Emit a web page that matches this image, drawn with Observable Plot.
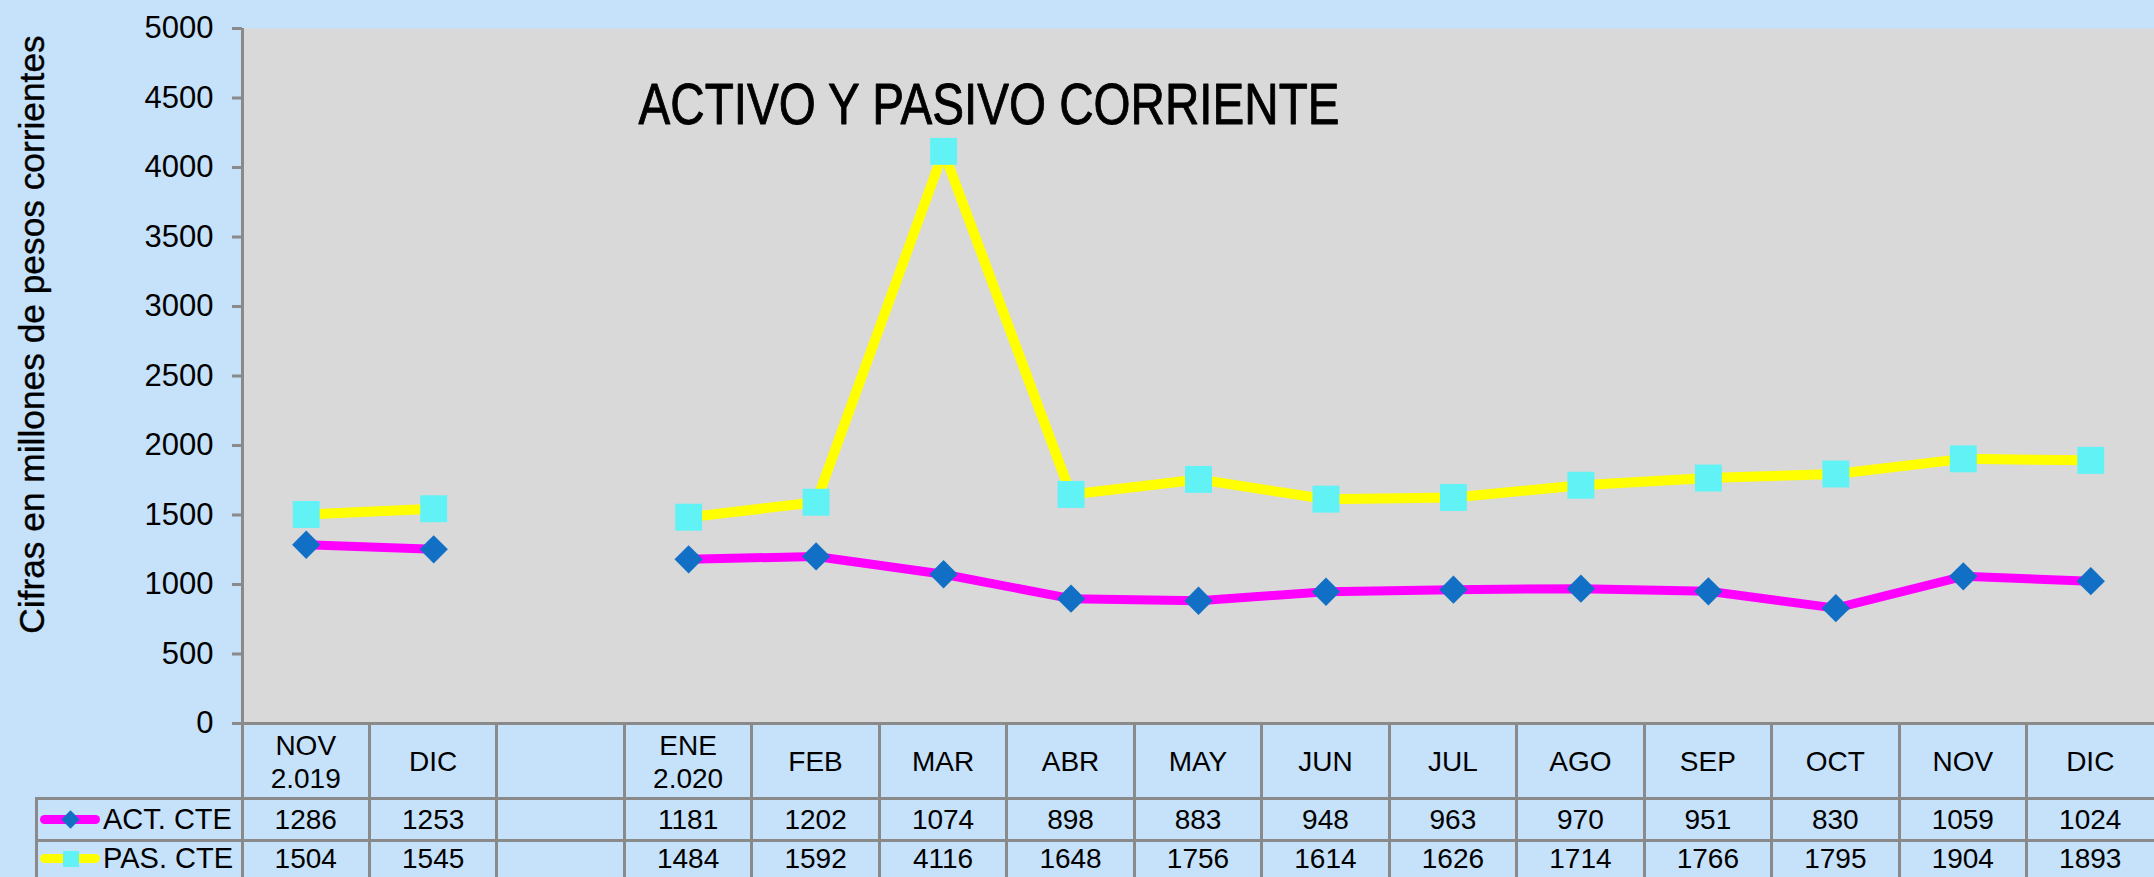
<!DOCTYPE html>
<html><head><meta charset="utf-8">
<script src="https://cdn.jsdelivr.net/npm/d3@7"></script>
<script src="https://cdn.jsdelivr.net/npm/@observablehq/plot@0.6"></script>
<style>
html,body{margin:0;padding:0;background:#C6E1FA;}
#wrap{position:relative;width:2154px;height:877px;overflow:hidden;background:#C6E1FA;font-family:"Liberation Sans",Arial,sans-serif;}
#wrap svg{position:absolute;left:0;top:0;}
.ln{position:absolute;background:#8a8a8a;}
.cell{position:absolute;display:flex;align-items:center;justify-content:center;text-align:center;font-size:28px;color:#000;white-space:pre-line;line-height:33px;}
.leg{position:absolute;display:flex;align-items:center;font-size:29px;color:#000;white-space:nowrap;}
.sym{position:absolute;}
</style></head><body><div id="wrap"></div>
<script>
(function () {
// ---- data ----
const months = ["NOV\n2.019","DIC","","ENE\n2.020","FEB","MAR","ABR","MAY","JUN","JUL","AGO","SEP","OCT","NOV","DIC"];
const actCte = [1286,1253,null,1181,1202,1074,898,883,948,963,970,951,830,1059,1024];
const pasCte = [1504,1545,null,1484,1592,4116,1648,1756,1614,1626,1714,1766,1795,1904,1893];
const yTicks = [0,500,1000,1500,2000,2500,3000,3500,4000,4500,5000];
const seriesNames = ["ACT. CTE","PAS. CTE"];
const chartTitle = "ACTIVO Y PASIVO CORRIENTE";
const yLabel = "Cifras en millones de pesos corrientes";

// ---- layout ----
const W = 2154, mLeft = 242, mTop = 28, y0px = 723, svgH = 725;
const cw = (W - mLeft) / months.length;
const gridColor = "#8a8a8a";
const actColor = "#FF00FF", actMarker = "#1170C6";
const pasColor = "#FFFF00", pasMarker = "#61F2F6";

const rows = months.map((m, i) => ({i, act: actCte[i] == null ? NaN : actCte[i], pas: pasCte[i] == null ? NaN : pasCte[i]}));

const plot = Plot.plot({
  width: W, height: svgH,
  marginLeft: mLeft, marginRight: 0, marginTop: mTop, marginBottom: svgH - y0px,
  style: {background: "transparent", fontFamily: "Liberation Sans, Arial, sans-serif", color: "black", overflow: "visible"},
  x: {domain: [-0.5, months.length - 0.5], axis: null},
  y: {domain: [0, 5000], axis: null},
  marks: [
    Plot.frame({fill: "#D9D9D9", stroke: "none"}),
    Plot.axisY(yTicks, {tickSize: 10, tickPadding: 19, fontSize: 31, tickFormat: d => String(d), stroke: gridColor, strokeWidth: 3, label: null}),
    Plot.ruleX([-0.5], {stroke: gridColor, strokeWidth: 3}),
    Plot.ruleY([0], {stroke: gridColor, strokeWidth: 3}),
    Plot.text([chartTitle], {text: d => d, frameAnchor: "top-left", dx: 396, dy: 95, textAnchor: "start", lineAnchor: "bottom", fontSize: 57, fill: "black", stroke: "black", strokeWidth: 0.9, fontFamily: "Liberation Sans Narrow, Arial Narrow, Liberation Sans, sans-serif"}),
    Plot.text([yLabel], {text: d => d, frameAnchor: "left", rotate: -90, dx: -210, dy: -41.5, textAnchor: "middle", lineAnchor: "middle", fontSize: 35.3, fill: "black", stroke: "black", strokeWidth: 0.4, fontFamily: "Liberation Sans, Arial, sans-serif"}),
    Plot.line(rows, {x: "i", y: "pas", stroke: pasColor, strokeWidth: 10}),
    Plot.line(rows, {x: "i", y: "act", stroke: actColor, strokeWidth: 9}),
    Plot.dot(rows, {x: "i", y: "pas", symbol: "square", r: 15.2, fill: pasMarker}),
    Plot.dot(rows, {x: "i", y: "act", symbol: "square", rotate: 45, r: 11.3, fill: actMarker})
  ]
});
for (const t of plot.querySelectorAll("text")) {
  if (t.textContent === chartTitle) { t.setAttribute("textLength", 701); t.setAttribute("lengthAdjust", "spacingAndGlyphs"); }
}
const wrap = document.getElementById("wrap");
wrap.appendChild(plot);

// ---- data table ----
function div(cls, css, text) {
  const d = document.createElement("div");
  d.className = cls;
  Object.assign(d.style, css);
  if (text != null) d.textContent = text;
  wrap.appendChild(d);
  return d;
}
const rowTops = [y0px, 798, 840, 877];
const legLeft = 36;
for (const y of [rowTops[1], rowTops[2]]) div("ln", {left: legLeft - 1.5 + "px", top: y - 1.5 + "px", width: W - legLeft + 3 + "px", height: "3px"});
for (let k = 0; k < months.length; k++) {
  const x = mLeft + k * cw;
  div("ln", {left: x - 1.5 + "px", top: y0px + "px", width: "3px", height: 877 - y0px + "px"});
}
div("ln", {left: legLeft - 1.5 + "px", top: rowTops[1] - 1.5 + "px", width: "3px", height: 877 - rowTops[1] + 3 + "px"});

const rowsVals = [actCte, pasCte];
months.forEach((m, i) => {
  const x = mLeft + i * cw;
  div("cell", {left: x + "px", top: rowTops[0] + 2 + "px", width: cw + "px", height: rowTops[1] - rowTops[0] - 2 + "px"}, m);
  rowsVals.forEach((vals, r) => {
    div("cell", {left: x + "px", top: rowTops[r + 1] + "px", width: cw + "px", height: rowTops[r + 2] - rowTops[r + 1] + "px"}, vals[i] == null ? "" : String(vals[i]));
  });
});
const legColors = [[actColor, actMarker, true], [pasColor, pasMarker, false]];
seriesNames.forEach((name, r) => {
  const cy = (rowTops[r + 1] + rowTops[r + 2]) / 2;
  const [lc, mc, diamond] = legColors[r];
  div("sym", {left: "40px", top: cy - 4.5 + "px", width: "60px", height: "9px", borderRadius: "5px", background: lc});
  if (diamond) div("sym", {left: 70 - 6.5 + "px", top: cy - 6.5 + "px", width: "13px", height: "13px", background: mc, transform: "rotate(45deg)"});
  else div("sym", {left: 71 - 8 + "px", top: cy - 8 + "px", width: "16px", height: "16px", background: mc});
  div("leg", {left: "103px", top: rowTops[r + 1] + "px", height: rowTops[r + 2] - rowTops[r + 1] + "px"}, name);
});
})();
</script></body></html>
